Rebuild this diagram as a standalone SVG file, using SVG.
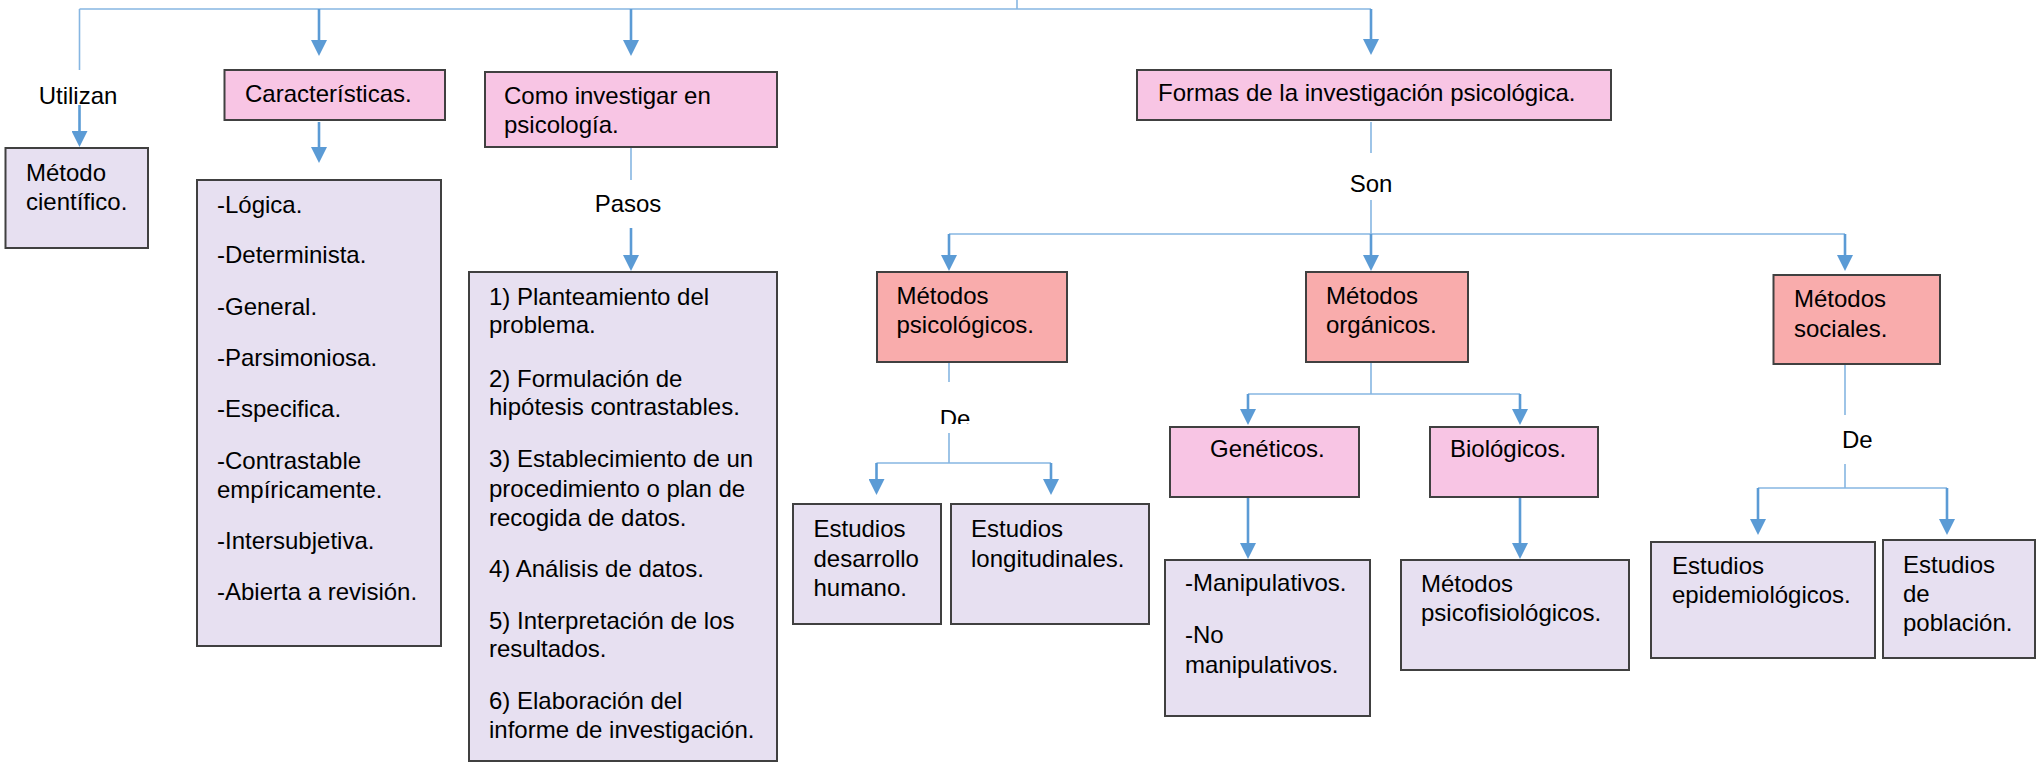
<svg xmlns="http://www.w3.org/2000/svg" width="2037" height="762" viewBox="0 0 2037 762">
<style>
text{font-family:"Liberation Sans",Arial,sans-serif;font-size:24px;fill:#000}
.lav{fill:#E7E0F1;stroke:#404040;stroke-width:2}
.pink{fill:#F8C5E4;stroke:#404040;stroke-width:2}
.sal{fill:#F9ACAC;stroke:#404040;stroke-width:2}
.ln{fill:none;stroke:#86B6E2;stroke-width:1.6}
.ar{fill:none;stroke:#5B9BD5;stroke-width:2.6;marker-end:url(#ah)}
.c{text-anchor:middle}
</style>
<defs>
<marker id="ah" viewBox="0 0 16 16" refX="4" refY="8" markerWidth="16" markerHeight="16" markerUnits="userSpaceOnUse" orient="auto">
<path d="M0,0 L16,8 L0,16 z" fill="#5B9BD5"/>
</marker>
<clipPath id="declip"><rect x="900" y="395" width="100" height="29"/></clipPath>
</defs>
<rect width="2037" height="762" fill="#fff"/>
<g id="connectors">
<path class="ln" d="M1017,0 V9"/>
<path class="ln" d="M79.5,9 H1371"/>
<path class="ln" d="M79.5,9 V70"/>
<path class="ln" d="M631,148 V180"/>
<path class="ln" d="M1371,122 V153"/>
<path class="ln" d="M1371,200 V234"/>
<path class="ln" d="M949,234 H1845"/>
<path class="ln" d="M949,362 V382"/>
<path class="ln" d="M949,433 V463 M876.5,463 H1051"/>
<path class="ln" d="M1371,362 V394 M1248,394 H1520"/>
<path class="ln" d="M1845,364 V415 M1845,464 V488 M1758,488 H1947"/>
<path class="ar" d="M79.5,105 V135"/>
<path class="ar" d="M319,9 V44"/>
<path class="ar" d="M631,9 V44"/>
<path class="ar" d="M1371,9 V43"/>
<path class="ar" d="M319,122 V151"/>
<path class="ar" d="M631,228 V259"/>
<path class="ar" d="M949,234 V259"/>
<path class="ar" d="M1371,234 V259"/>
<path class="ar" d="M1845,234 V259"/>
<path class="ar" d="M876.5,463 V483"/>
<path class="ar" d="M1051,463 V483"/>
<path class="ar" d="M1248,394 V413"/>
<path class="ar" d="M1520,394 V413"/>
<path class="ar" d="M1248,497 V547"/>
<path class="ar" d="M1520,497 V547"/>
<path class="ar" d="M1758,488 V523"/>
<path class="ar" d="M1947,488 V523"/>
<text class="c" x="78" y="104">Utilizan</text>
<text class="c" x="628" y="212">Pasos</text>
<text class="c" x="1371" y="192">Son</text>
<text class="c" x="955" y="427" clip-path="url(#declip)">De</text>
<text x="1842" y="448">De</text>
</g>
<g id="metodo-cientifico">
<rect class="lav" x="5.5" y="148" width="142.5" height="100"/>
<text x="26" y="181">Método</text>
<text x="26" y="210">científico.</text>
</g>
<g id="caracteristicas">
<rect class="pink" x="224.5" y="70" width="220.5" height="50"/>
<text x="245" y="102">Características.</text>
</g>
<g id="lista-caracteristicas">
<rect class="lav" x="197" y="180" width="244" height="466"/>
<text x="217" y="213">-Lógica.</text>
<text x="217" y="263">-Determinista.</text>
<text x="217" y="315">-General.</text>
<text x="217" y="366">-Parsimoniosa.</text>
<text x="217" y="417">-Especifica.</text>
<text x="217" y="469">-Contrastable</text>
<text x="217" y="498">empíricamente.</text>
<text x="217" y="549">-Intersubjetiva.</text>
<text x="217" y="600">-Abierta a revisión.</text>
</g>
<g id="como-investigar">
<rect class="pink" x="485" y="72" width="292" height="75"/>
<text x="504" y="104">Como investigar en</text>
<text x="504" y="133">psicología.</text>
</g>
<g id="pasos">
<rect class="lav" x="469" y="272" width="308" height="489"/>
<text x="489" y="305">1) Planteamiento del</text>
<text x="489" y="333">problema.</text>
<text x="489" y="387">2) Formulación de</text>
<text x="489" y="415">hipótesis contrastables.</text>
<text x="489" y="467">3) Establecimiento de un</text>
<text x="489" y="497">procedimiento o plan de</text>
<text x="489" y="526">recogida de datos.</text>
<text x="489" y="577">4) Análisis de datos.</text>
<text x="489" y="629">5) Interpretación de los</text>
<text x="489" y="657">resultados.</text>
<text x="489" y="709">6) Elaboración del</text>
<text x="489" y="738">informe de investigación.</text>
</g>
<g id="formas">
<rect class="pink" x="1137" y="70" width="474" height="50"/>
<text x="1158" y="101">Formas de la investigación psicológica.</text>
</g>
<g id="metodos-psicologicos">
<rect class="sal" x="877" y="272" width="190" height="90"/>
<text x="896.5" y="304">Métodos</text>
<text x="896.5" y="333">psicológicos.</text>
</g>
<g id="metodos-organicos">
<rect class="sal" x="1306" y="272" width="162" height="90"/>
<text x="1326" y="304">Métodos</text>
<text x="1326" y="333">orgánicos.</text>
</g>
<g id="metodos-sociales">
<rect class="sal" x="1773.5" y="275" width="166.5" height="89"/>
<text x="1794" y="307">Métodos</text>
<text x="1794" y="337">sociales.</text>
</g>
<g id="estudios-desarrollo">
<rect class="lav" x="793" y="504" width="148" height="120"/>
<text x="813.5" y="537">Estudios</text>
<text x="813.5" y="567">desarrollo</text>
<text x="813.5" y="596">humano.</text>
</g>
<g id="estudios-longitudinales">
<rect class="lav" x="951" y="504" width="198" height="120"/>
<text x="971" y="537">Estudios</text>
<text x="971" y="567">longitudinales.</text>
</g>
<g id="geneticos">
<rect class="pink" x="1170" y="427" width="189" height="70"/>
<text x="1210" y="457">Genéticos.</text>
</g>
<g id="biologicos">
<rect class="pink" x="1430" y="427" width="168" height="70"/>
<text x="1450" y="457">Biológicos.</text>
</g>
<g id="manipulativos">
<rect class="lav" x="1165" y="560" width="205" height="156"/>
<text x="1185" y="591">-Manipulativos.</text>
<text x="1185" y="643">-No</text>
<text x="1185" y="673">manipulativos.</text>
</g>
<g id="psicofisiologicos">
<rect class="lav" x="1401" y="560" width="228" height="110"/>
<text x="1421" y="592">Métodos</text>
<text x="1421" y="621">psicofisiológicos.</text>
</g>
<g id="epidemiologicos">
<rect class="lav" x="1651" y="542" width="224" height="116"/>
<text x="1672" y="574">Estudios</text>
<text x="1672" y="603">epidemiológicos.</text>
</g>
<g id="poblacion">
<rect class="lav" x="1883" y="540" width="152" height="118"/>
<text x="1903" y="573">Estudios</text>
<text x="1903" y="602">de</text>
<text x="1903" y="631">población.</text>
</g>
</svg>
